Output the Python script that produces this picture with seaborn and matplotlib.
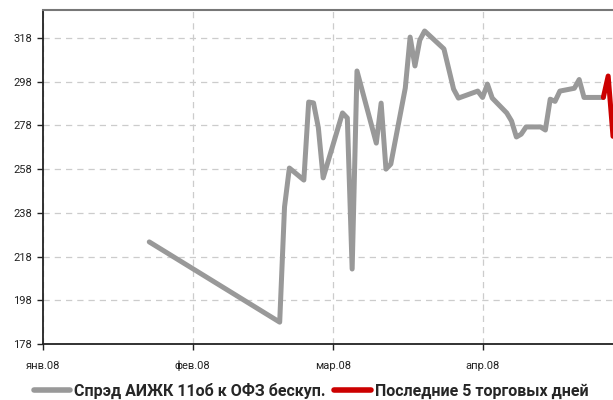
import matplotlib
matplotlib.use("Agg")
import matplotlib.pyplot as plt
import matplotlib.dates as mdates
import seaborn as sns
import pandas as pd

# ---- data ----
spread_dates = ["2008-01-23", "2008-02-19", "2008-02-20", "2008-02-21", "2008-02-24",
                "2008-02-25", "2008-02-26", "2008-02-27", "2008-02-28", "2008-03-03",
                "2008-03-04", "2008-03-05", "2008-03-06", "2008-03-10", "2008-03-11",
                "2008-03-12", "2008-03-13", "2008-03-16", "2008-03-17", "2008-03-18",
                "2008-03-19", "2008-03-20", "2008-03-24", "2008-03-26", "2008-03-27",
                "2008-03-31", "2008-04-01", "2008-04-02", "2008-04-03", "2008-04-06",
                "2008-04-07", "2008-04-08", "2008-04-09", "2008-04-10", "2008-04-13",
                "2008-04-14", "2008-04-15", "2008-04-16", "2008-04-17", "2008-04-20",
                "2008-04-21", "2008-04-22", "2008-04-26"]
spread_values = [224.7, 188.0, 240.7, 258.5, 253.0,
                 288.7, 288.3, 277.0, 254.0, 283.7,
                 281.4, 212.3, 302.9, 269.9, 288.2,
                 258.0, 260.3, 295.1, 318.4, 305.2,
                 317.0, 321.2, 313.0, 294.6, 290.5,
                 293.7, 290.8, 296.9, 290.5, 283.7,
                 280.0, 272.7, 274.0, 277.3, 277.3,
                 275.9, 290.0, 289.0, 293.7, 295.0,
                 299.0, 290.8, 290.8]
last_dates = ["2008-04-26", "2008-04-27", "2008-04-28"]
last_values = [290.8, 300.6, 273.0]

series_labels = ["Спрэд АИЖК 11об к ОФЗ бескуп.", "Последние 5 торговых дней"]
month_ticks = ["2008-01-01", "2008-02-01", "2008-03-01", "2008-04-01"]
month_labels = ["янв.08", "фев.08", "мар.08", "апр.08"]
y_ticks = [178, 198, 218, 238, 258, 278, 298, 318]

df_main = pd.DataFrame({"date": pd.to_datetime(spread_dates), "value": spread_values})
df_last = pd.DataFrame({"date": pd.to_datetime(last_dates), "value": last_values})

sns.set_style("white")
plt.rcParams["font.family"] = ["Roboto", "DejaVu Sans"]

fig = plt.figure(figsize=(6.13, 4.0), dpi=100)
ax = fig.add_axes([43 / 613, 1 - 344 / 400, 1 - 43 / 613, (344 - 10) / 400])

sns.lineplot(data=df_main, x="date", y="value", ax=ax, color="#999999",
             linewidth=3.6, label=series_labels[0], solid_joinstyle="round",
             solid_capstyle="round")
sns.lineplot(data=df_last, x="date", y="value", ax=ax, color="#CC0000",
             linewidth=3.6, label=series_labels[1], solid_joinstyle="round",
             solid_capstyle="round")

ax.set_xlim(pd.Timestamp("2008-01-01"), pd.Timestamp("2008-04-28"))
ax.set_ylim(178, 330.8)
ax.set_xticks(pd.to_datetime(month_ticks))
ax.set_xticklabels(month_labels)
ax.set_yticks(y_ticks)
ax.set_yticklabels([str(v) for v in y_ticks])
ax.set_xlabel("")
ax.set_ylabel("")

ax.grid(True, axis="both", linestyle=(0, (5, 4)), color="#cccccc", linewidth=0.9)
ax.set_axisbelow(True)

for side in ["left", "bottom"]:
    ax.spines[side].set_color("#222222")
    ax.spines[side].set_linewidth(1.3)
ax.spines["top"].set_color("#777777")
ax.spines["top"].set_linewidth(1.5)
ax.spines["right"].set_visible(False)

ax.tick_params(axis="y", direction="out", length=4, width=1, color="#222222",
               labelsize=8, labelcolor="#222222", pad=4, left=True)
ax.tick_params(axis="x", direction="out", length=4, width=1, color="#222222",
               labelsize=8, labelcolor="#222222", pad=8, bottom=True)

leg = ax.legend(loc="center", bbox_to_anchor=(311 / 613, 1 - 391 / 400),
                bbox_transform=fig.transFigure, ncol=2, frameon=False,
                handlelength=2.3, handletextpad=0.25, columnspacing=0.5,
                prop={"family": ["Roboto", "DejaVu Sans"], "weight": "bold", "size": 11.5},
                borderaxespad=0.0, borderpad=0.0)
for line in leg.get_lines():
    line.set_linewidth(4)

fig.savefig("out.png", dpi=100)
